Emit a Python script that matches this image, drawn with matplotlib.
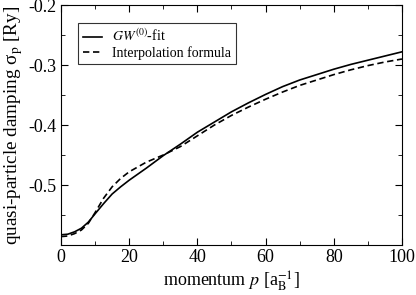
import matplotlib
matplotlib.use('Agg')
import matplotlib.pyplot as plt
from matplotlib.ticker import MultipleLocator

plt.rcParams['font.family'] = 'Liberation Serif'
plt.rcParams['mathtext.fontset'] = 'stix'

# Data
p = [0, 2, 4, 6, 8, 10, 12.5, 15, 17.5, 20, 25, 30, 35, 40, 45, 50, 55, 60, 65, 70, 75, 80, 85, 90, 95, 100]
gw_fit = [-0.583, -0.582, -0.578, -0.572, -0.562, -0.548, -0.531, -0.515, -0.503, -0.492, -0.472,
          -0.451, -0.432, -0.412, -0.395, -0.378, -0.363, -0.349, -0.336, -0.325, -0.316, -0.307,
          -0.299, -0.292, -0.285, -0.278]
interp = [-0.586, -0.585, -0.581, -0.575, -0.564, -0.546, -0.522, -0.503, -0.489, -0.478, -0.462,
          -0.450, -0.436, -0.418, -0.400, -0.384, -0.370, -0.357, -0.345, -0.334, -0.325, -0.316,
          -0.308, -0.301, -0.295, -0.290]

fig = plt.figure(figsize=(4.16, 2.95), dpi=100)
ax = fig.add_axes([0.1466, 0.1695, 0.8197, 0.8135])

ax.plot(p, gw_fit, color='black', lw=1.2, label=r'$GW^{(0)}$-fit')
ax.plot(p, interp, color='black', lw=1.2, dashes=(3.8, 2.2), label='Interpolation formula')

ax.set_xlim(0, 100)
ax.set_ylim(-0.6, -0.2)
ax.xaxis.set_major_locator(MultipleLocator(20))
ax.xaxis.set_minor_locator(MultipleLocator(10))
ax.yaxis.set_minor_locator(MultipleLocator(0.05))
ax.set_yticks([-0.5, -0.4, -0.3, -0.2])
ax.set_yticklabels(['-0.5', '-0.4', '-0.3', '-0.2'])
ax.tick_params(which='both', direction='in', top=True, right=True, labelsize=13, pad=3)
ax.tick_params(which='major', length=5)
ax.tick_params(which='minor', length=3)

ax.set_xlabel(r'momentum $p$ [a$_\mathrm{B}^{-1}$]', fontsize=13, labelpad=2)
ax.set_ylabel('quasi-particle damping σ$_\\mathrm{p}$ [Ry]', fontsize=13.8, labelpad=3)

leg = ax.legend(loc='upper left', bbox_to_anchor=(0.05, 0.925), fontsize=10, frameon=True,
                fancybox=False, edgecolor='black', handlelength=1.4, borderpad=0.35,
                labelspacing=0.1, handletextpad=0.7, borderaxespad=0)
leg.get_frame().set_linewidth(0.8)

fig.savefig('out.png', dpi=100)
